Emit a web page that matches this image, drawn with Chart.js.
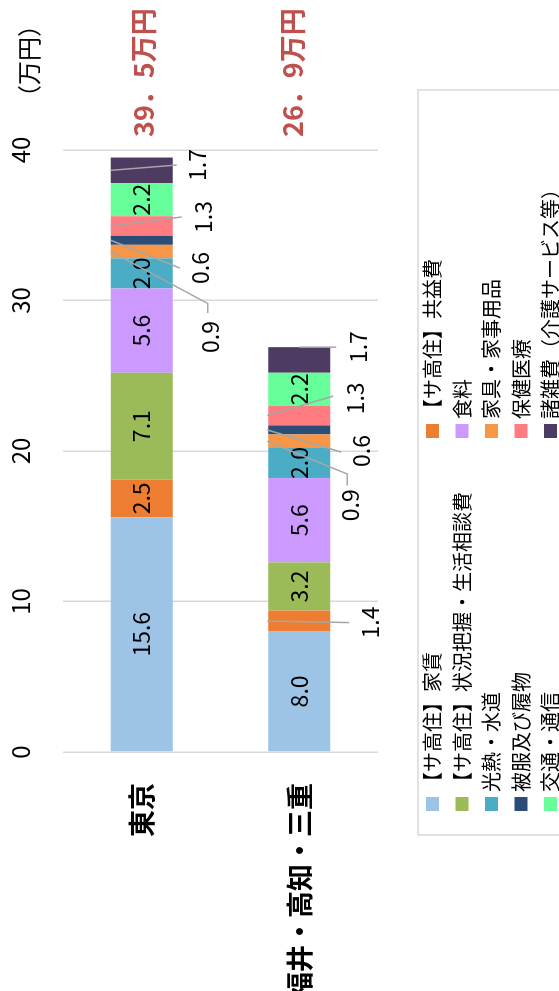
<!DOCTYPE html>
<html lang="ja">
<head>
<meta charset="utf-8">
<title>月額費用の比較</title>
<script src="https://cdn.jsdelivr.net/npm/chart.js@4.4.1/dist/chart.umd.min.js"></script>
<style>
    html, body { margin: 0; padding: 0; background: #fff; overflow: hidden; }
    /* chart is laid out landscape and turned a quarter turn to the left */
    #wrap {
        position: absolute; left: 0; top: 0;
        width: 991px; height: 559px;
        transform-origin: 0 0;
        transform: translateY(991px) rotate(-90deg);
    }
</style>
</head>
<body>
<div id="wrap"><canvas id="costChart" width="991" height="559"></canvas></div>
<script>
const regions = ["東京", "福井・高知・三重"];
const itemNames = [
    "【サ高住】家賃", "【サ高住】共益費",
    "【サ高住】状況把握・生活相談費", "食料",
    "光熱・水道", "家具・家事用品",
    "被服及び履物", "保健医療",
    "交通・通信", "諸雑費（介護サービス等）"
];
const tokyoCosts = [15.6, 2.5, 7.1, 5.6, 2.0, 0.9, 0.6, 1.3, 2.2, 1.7];
const fukuiCosts = [8.0, 1.4, 3.2, 5.6, 2.0, 0.9, 0.6, 1.3, 2.2, 1.7];
const valueTicks = [0, 10, 20, 30, 40];
const unitLabel = "（万円）";
const itemColors = [
    "#9DC3E6", "#ED7D31", "#9BBB59", "#CC99FF", "#4BACC6",
    "#F79646", "#2C4D75", "#FF7C80", "#66FF99", "#4D3B61"
];

// small segments get their label outside the bar, with a leader line
// region, item, where the line leaves the bar, bend points [value, px], label [value, px]
const outsideSpots = [
    { region: 0, item: 9, from: ["mid", -31], bends: [[39.0, 35]], label: [39.0, 56] },
    { region: 0, item: 7, from: ["mid", -31], bends: [[35.55, 40]], label: [35.55, 62] },
    { region: 0, item: 6, from: ["mid", -31], bends: [[32.16, 38]], label: [32.16, 59] },
    { region: 0, item: 5, from: ["mid", -31], bends: [[29.8, 66], [29.17, 66]], label: [27.57, 69] },
    { region: 1, item: 9, from: ["end", 0], bends: [[26.9, 37]], label: [26.9, 59] },
    { region: 1, item: 7, from: ["mid", -32], bends: [[23.65, 34]], label: [23.5, 56] },
    { region: 1, item: 6, from: ["mid", -32], bends: [[19.93, 42]], label: [20.0, 62] },
    { region: 1, item: 5, from: ["mid", -32], bends: [[18.47, 48], [17.7, 48]], label: [16.4, 51] },
    { region: 1, item: 1, from: ["mid", -32], bends: [[8.6, 50]], label: [8.6, 71] }
];
const totalNudge = [2, -7];

const FONT = "'Noto Sans CJK JP', 'Noto Sans', sans-serif";

function isOutside(region, item) {
    return outsideSpots.some(s => s.region === region && s.item === item);
}

const costLabels = {
    id: "costLabels",
    afterDatasetsDraw(chart) {
        const ctx = chart.ctx;
        const xs = chart.scales.x;
        const ys = chart.scales.y;
        const area = chart.chartArea;
        ctx.save();

        // values inside the segments
        ctx.font = `23px ${FONT}`;
        ctx.textAlign = "center";
        ctx.textBaseline = "middle";
        ctx.fillStyle = "#000";
        chart.data.datasets.forEach((ds, i) => {
            chart.getDatasetMeta(i).data.forEach((bar, r) => {
                if (isOutside(r, i)) return;
                const p = bar.getProps(["x", "y", "base"], true);
                ctx.fillText(ds.data[r].toFixed(1), (p.x + p.base) / 2, p.y);
            });
        });

        // leader lines and outside values
        ctx.strokeStyle = "#A6A6A6";
        ctx.lineWidth = 1.5;
        outsideSpots.forEach(s => {
            const bar = chart.getDatasetMeta(s.item).data[s.region];
            const p = bar.getProps(["x", "y", "base"], true);
            const cy = p.y;
            const sx = s.from[0] === "mid" ? (p.x + p.base) / 2 : p.x;
            ctx.beginPath();
            ctx.moveTo(sx, cy + s.from[1]);
            s.bends.forEach(([v, off]) => ctx.lineTo(xs.getPixelForValue(v), cy + off));
            ctx.stroke();
            const val = chart.data.datasets[s.item].data[s.region];
            ctx.fillText(val.toFixed(1), xs.getPixelForValue(s.label[0]), cy + s.label[1]);
        });

        // totals to the right of the bars
        ctx.font = `bold 27px ${FONT}`;
        ctx.fillStyle = "#C0504D";
        ctx.textAlign = "left";
        regions.forEach((name, r) => {
            const sum = chart.data.datasets.reduce((acc, ds) => acc + ds.data[r], 0);
            const text = sum.toFixed(1).replace(".", "．") + "万円";
            ctx.fillText(text, area.right + 13, ys.getPixelForValue(r) + totalNudge[r]);
        });

        // unit
        ctx.font = `24px ${FONT}`;
        ctx.fillStyle = "#000";
        ctx.textAlign = "center";
        ctx.fillText(unitLabel, area.right + 89, 29);

        // legend box, two items per row
        ctx.strokeStyle = "#D9D9D9";
        ctx.lineWidth = 1.5;
        ctx.strokeRect(156, 418, 745, 200);
        ctx.font = `20px ${FONT}`;
        ctx.textAlign = "left";
        chart.data.datasets.forEach((ds, i) => {
            const row = Math.floor(i / 2);
            const mx = i % 2 === 0 ? 180 : 553;
            const my = 426 + row * 29.5;
            ctx.fillStyle = ds.backgroundColor;
            ctx.fillRect(mx, my, 14, 13);
            ctx.fillStyle = "#000";
            ctx.fillText(ds.label, mx + 19, my + 6.5);
        });

        ctx.restore();
    }
};

const datasets = itemNames.map((name, i) => ({
    label: name,
    data: [tokyoCosts[i], fukuiCosts[i]],
    backgroundColor: itemColors[i],
    borderWidth: 0,
    categoryPercentage: 1,
    barPercentage: 0.394
}));

new Chart(document.getElementById("costChart"), {
    type: "bar",
    data: { labels: regions, datasets: datasets },
    plugins: [costLabels],
    options: {
        indexAxis: "y",
        responsive: false,
        animation: false,
        layout: { padding: { left: 0, top: 0, right: 150, bottom: 181 } },
        plugins: {
            legend: { display: false },
            tooltip: { enabled: false }
        },
        scales: {
            x: {
                position: "top",
                stacked: true,
                min: valueTicks[0],
                max: valueTicks[valueTicks.length - 1],
                ticks: {
                    stepSize: valueTicks[1] - valueTicks[0],
                    color: "#000",
                    font: { family: FONT, size: 24 },
                    padding: 28
                },
                grid: { color: "#D9D9D9", lineWidth: 1.5, drawTicks: false },
                border: { display: false },
                afterFit: s => { s.height = 63; }
            },
            y: {
                position: "left",
                stacked: true,
                ticks: {
                    color: "#000",
                    font: { family: FONT, size: 27, weight: "bold" },
                    padding: 31
                },
                grid: { display: false, drawTicks: false },
                border: { display: false },
                afterFit: s => { s.width = 239; }
            }
        }
    }
});
</script>
</body>
</html>
